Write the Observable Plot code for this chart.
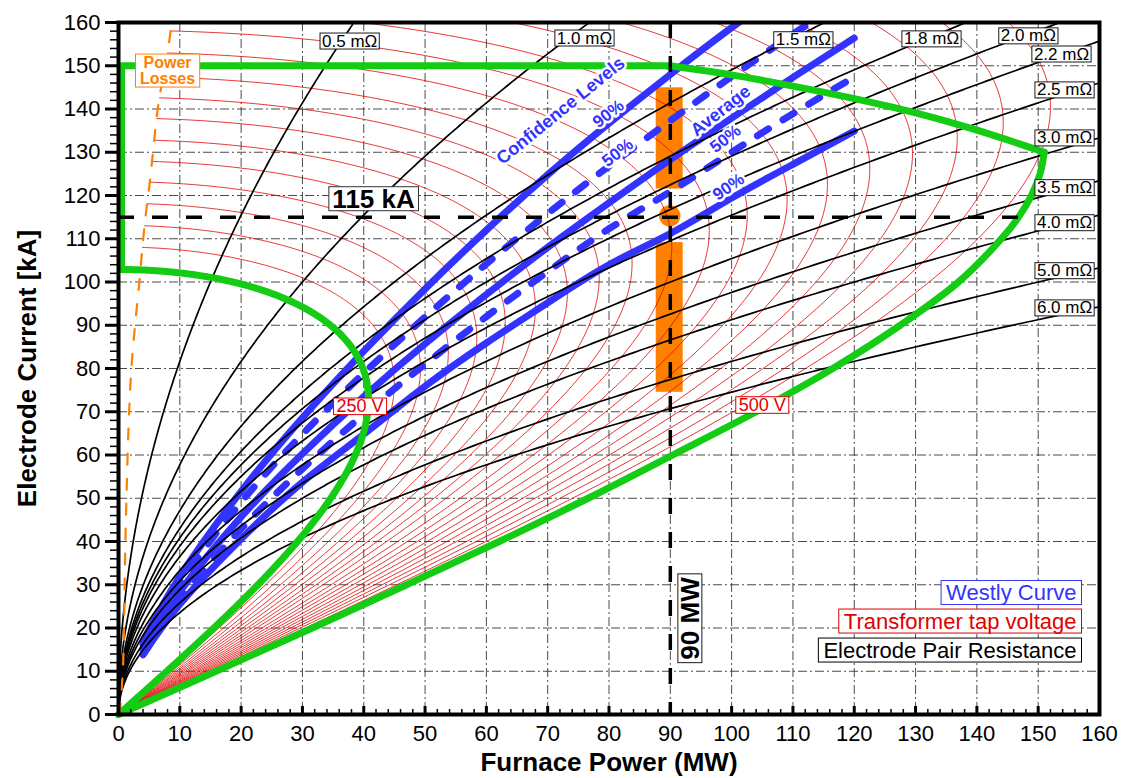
<!DOCTYPE html>
<html>
<head>
<meta charset="utf-8">
<script src="https://cdn.jsdelivr.net/npm/d3@7"></script>
<script src="https://cdn.jsdelivr.net/npm/@observablehq/plot@0.6"></script>
<style>
  html, body { margin: 0; padding: 0; background: #fff; }
  #chart svg { display: block; }
</style>
</head>
<body>
<div id="chart"></div>
<script>
// ---------------- data ----------------
const tickValues = [0, 10, 20, 30, 40, 50, 60, 70, 80, 90, 100, 110, 120, 130, 140, 150, 160];
const tickLabels = ["0","10","20","30","40","50","60","70","80","90","100","110","120","130","140","150","160"];
const gridValues = [10, 20, 30, 40, 50, 60, 70, 80, 90, 100, 110, 120, 130, 140, 150];

// Electrode pair resistance (mΩ): P[MW] = 3·I²[kA²]·R[mΩ]/1000
const resistances = [0.5, 1.0, 1.5, 1.8, 2.0, 2.2, 2.5, 3.0, 3.5, 4.0, 5.0, 6.0];
const resistanceLabels = ["0.5 mΩ","1.0 mΩ","1.5 mΩ","1.8 mΩ","2.0 mΩ","2.2 mΩ","2.5 mΩ","3.0 mΩ","3.5 mΩ","4.0 mΩ","5.0 mΩ","6.0 mΩ"];
const resistanceLabelPower = [37.7, 76.0, 111.7, 132.6, 148.4, 153.8, 154.3, 154.3, 154.3, 154.3, 154.3, 154.3];
const resistanceLabelCurrent = [155.7, 156.4, 156.0, 156.2, 156.9, 152.7, 144.4, 133.3, 121.8, 113.7, 102.6, 94.0];

// Transformer tap arcs: short-circuit current (kA) of each tap, read at the left ends
const tapShortCircuitCurrent = [102.9, 108.1, 113.1, 118.2, 123.2, 128.0, 132.9, 137.9, 142.7, 147.5,
                                153.1, 158.2, 163.2, 168.3, 173.3, 178.4, 183.4, 188.5, 193.6, 198.7];
const tapReactanceFactor = 0.0077; // MW per kA², 3·X/1000
const tapLabels = ["250 V", "500 V"];
const tapLabelPower = [39.4, 105.0];
const tapLabelCurrent = [71.2, 71.5];

// Power losses (orange dashed)
const lossCurrent = [0, 10, 20, 35, 50, 65, 75, 82, 90, 100, 108, 115, 123, 131, 139, 147, 155, 158];
const lossPower   = [0.2, 0.7, 0.9, 1.05, 1.3, 1.6, 1.9, 2.2, 2.7, 3.4, 3.9, 4.4, 5.1, 5.7, 6.3, 7.2, 8.2, 8.5];

// Westly curves
const westlyPower   = [4, 10, 20, 30, 40, 50, 60, 70, 80, 90, 100, 110, 120];
const westlyUpper90 = [16.9, 31.9, 51.6, 68.6, 84.0, 98.4, 112.0, 124.8, 136.7, 148.0, 158.8, 169.0, null];
const westlyUpper50 = [16.2, 30.4, 49.1, 64.8, 78.9, 91.9, 104.2, 115.8, 126.8, 137.3, 147.5, 157.3, null];
const westlyAverage = [15.1, 28.4, 45.7, 60.3, 73.5, 85.7, 97.1, 108.0, 118.3, 128.3, 137.9, 147.3, 156.4];
const westlyLower50 = [14.0, 26.6, 42.9, 56.8, 69.4, 81.0, 92.0, 102.4, 112.3, 120.9, 130.0, 138.9, null];
const westlyLower90 = [13.8, 25.5, 40.6, 53.7, 64.8, 75.9, 85.9, 95.2, 104.0, 111.2, 119.4, 127.2, 134.9];
const westlyUpper50End = [112.5, 159.6];
const westlyLower50End = [119.4, 146.9];

// Operating window (green)
const greenEdgePower   = [0.5, 0.5, 90];
const greenEdgeCurrent = [103.0, 150, 150];
const greenTopPower    = [90, 100, 110, 120, 130, 140, 151];
const greenTopCurrent  = [150, 147.9, 145.3, 142.4, 139.1, 135.1, 130];
const greenRightCurrent = [130, 125, 120, 115, 110, 100, 90, 80, 70, 60, 50, 40, 30, 20, 10, 0];
const greenRightPower   = [151.0, 150.3, 148.9, 146.8, 144.0, 137.0, 127.5, 116.5, 104.0, 90.4, 76.6, 62.1, 47.0, 31.6, 15.9, 0];

// Orange operating range at 90 MW
const rangePower = [87.7, 92.1];
const rangeLow  = [74.5, 109.1];
const rangeHigh = [121.5, 144.9];
const rangePointPower = 89.9, rangePointCurrent = 115.3;

// Reference lines
const referenceCurrent = [115];
const referencePower = [90];

// Annotations
const westlyNotes = ["Confidence Levels", "90%", "50%", "Average", "50%", "90%"];
const westlyNotePower = [72.1, 79.9, 81.4, 98.2, 99.0, 99.5];
const westlyNoteCurrent = [139.6, 138.9, 129.9, 139.6, 133.1, 122.0];
const westlyNoteAngle = [-39, -38, -38, -38, -38, -35];
const legendItems = ["Westly Curve", "Transformer tap voltage", "Electrode Pair Resistance"];

// ---------------- derived tables ----------------
const BLUE = "#3333ff", RED = "#e00000", GREEN = "#15cc15", ORANGE = "#ff8000";

const lossAt = d3.scaleLinear().domain(lossCurrent).range(lossPower).clamp(true);

const resistanceCurves = resistances.flatMap((R) => {
  const pts = [];
  for (let j = 0; j <= 400; ++j) {
    const I = 165 * j / 400, P = 3 * I * I * R / 1000;
    pts.push({R, I, P});
    if (P > 165) break;
  }
  return pts;
});

function tapArc(I0, k, toZero) {
  const pts = [];
  const n = 500;
  for (let j = 0; j <= n; ++j) {
    const th = (Math.PI / 2) * j / n;
    const I = I0 * Math.sin(th);
    const P = tapReactanceFactor * I0 * I0 * Math.sin(th) * Math.cos(th);
    if (!toZero && th > Math.PI / 4 && P < lossAt(I)) { pts.push({k, I, P: lossAt(I)}); break; }
    if (toZero && th > Math.PI / 4 && P < greenEdgePower[0]) { pts.push({k, I, P: greenEdgePower[0]}); break; }
    pts.push({k, I, P});
  }
  return pts;
}
const tapArcs = tapShortCircuitCurrent.flatMap((I0, k) => tapArc(I0, k, false));
const greenLeftArc = tapArc(tapShortCircuitCurrent[0], 0, true);

const westly = [];
const addWestly = (name, values, end) => {
  westlyPower.forEach((p, i) => { if (values[i] != null) westly.push({name, P: p, I: values[i]}); });
  if (end) westly.push({name, P: end[0], I: end[1]});
};
addWestly("u90", westlyUpper90);
addWestly("u50", westlyUpper50, westlyUpper50End);
addWestly("avg", westlyAverage);
addWestly("l50", westlyLower50, westlyLower50End);
addWestly("l90", westlyLower90);
const westlySolid = westly.filter(d => d.name === "u90" || d.name === "avg" || d.name === "l90");
const westlyDashed = westly.filter(d => d.name === "u50" || d.name === "l50");

const lossLine = lossCurrent.map((I, i) => ({I, P: lossPower[i]}));
const greenEdge = greenEdgePower.map((P, i) => ({P, I: greenEdgeCurrent[i]}));
const greenTop = greenTopPower.map((P, i) => ({P, I: greenTopCurrent[i]}));
const greenRight = greenRightCurrent.map((I, i) => ({I, P: greenRightPower[i]}));
const ranges = [
  {x1: rangePower[0], x2: rangePower[1], y1: rangeLow[0], y2: rangeLow[1]},
  {x1: rangePower[0], x2: rangePower[1], y1: rangeHigh[0], y2: rangeHigh[1]}
];
const resLabels = resistanceLabels.map((t, i) => ({t, P: resistanceLabelPower[i], I: resistanceLabelCurrent[i]}));
const tapLabelRows = tapLabels.map((t, i) => ({t, P: tapLabelPower[i], I: tapLabelCurrent[i]}));
const noteRows = westlyNotes.map((t, i) => ({t, P: westlyNotePower[i], I: westlyNoteCurrent[i], a: westlyNoteAngle[i]}));
const minorTicks = d3.range(0, 161, 2).filter(v => v % 10 !== 0);
const fmt = (d) => tickLabels[tickValues.indexOf(d)];

const grid = {stroke: "#2a2a2a", strokeOpacity: 0.85, strokeWidth: 1, strokeDasharray: "9,3,2,3"};
const legendText = (t, color, dy) => Plot.text([t], {frameAnchor: "bottom-right", text: (d) => d, fill: color,
  dx: -23, dy, textAnchor: "end", lineAnchor: "middle", fontSize: 22});

const chart = Plot.plot({
  width: 1122,
  height: 778,
  marginLeft: 118,
  marginRight: 23,
  marginTop: 22,
  marginBottom: 64,
  style: {fontFamily: "'Liberation Sans', Arial, sans-serif", fontSize: "22px", background: "white", color: "black"},
  x: {domain: [0, 160]},
  y: {domain: [0, 160]},
  marks: [
    Plot.gridX(gridValues, grid),
    Plot.gridY(gridValues, grid),
    Plot.rect(ranges, {x1: "x1", x2: "x2", y1: "y1", y2: "y2", fill: ORANGE}),
    Plot.dot([{P: rangePointPower, I: rangePointCurrent}], {x: "P", y: "I", r: 10.7, fill: ORANGE}),
    Plot.line(tapArcs, {x: "P", y: "I", z: "k", stroke: RED, strokeWidth: 0.8, clip: true}),
    Plot.line(westlySolid, {x: "P", y: "I", z: "name", stroke: BLUE, strokeWidth: 7, curve: "natural", clip: true}),
    Plot.line(westlyDashed, {x: "P", y: "I", z: "name", stroke: BLUE, strokeWidth: 7, strokeDasharray: "13,17", curve: "natural", clip: true}),
    Plot.line(resistanceCurves, {x: "P", y: "I", z: "R", stroke: "black", strokeWidth: 1.7, clip: true}),
    Plot.line(greenLeftArc, {x: "P", y: "I", stroke: GREEN, strokeWidth: 7, strokeLinecap: "round"}),
    Plot.line(greenEdge, {x: "P", y: "I", stroke: GREEN, strokeWidth: 7, strokeLinecap: "round"}),
    Plot.line(greenTop, {x: "P", y: "I", stroke: GREEN, strokeWidth: 7, curve: "catmull-rom", strokeLinecap: "round"}),
    Plot.line(greenRight, {x: "P", y: "I", stroke: GREEN, strokeWidth: 7, curve: "catmull-rom", strokeLinecap: "round"}),
    Plot.line(lossLine, {x: "P", y: "I", stroke: ORANGE, strokeWidth: 2.2, strokeDasharray: "11,14", curve: "catmull-rom"}),
    Plot.ruleY(referenceCurrent, {stroke: "black", strokeWidth: 3.5, strokeDasharray: "16,18"}),
    Plot.ruleX(referencePower, {stroke: "black", strokeWidth: 3.5, strokeDasharray: "16,18"}),
    Plot.frame({stroke: "black", strokeWidth: 4}),
    Plot.axisY({ticks: tickValues, tickFormat: fmt, tickSize: 13, tickPadding: 5, strokeWidth: 3, fontSize: 22, label: null}),
    Plot.axisY({ticks: minorTicks, tickFormat: () => "", tickSize: 8, strokeWidth: 1.5, label: null}),
    Plot.axisX({ticks: tickValues, tickFormat: fmt, tickSize: 0, tickPadding: 11, fontSize: 22, label: null}),
    Plot.ruleX(tickValues, {y1: 0, y2: 1.85, stroke: "black", strokeWidth: 3}),
    Plot.ruleX(minorTicks, {y1: 0, y2: 1.15, stroke: "black", strokeWidth: 1.5}),
    // annotations
    Plot.text(noteRows, {x: "P", y: "I", text: "t", rotate: "a", fill: BLUE, fontWeight: "bold",
      fontSize: (d) => d.t === "Confidence Levels" || d.t === "Average" ? 18 : 17, stroke: "white", strokeWidth: 5}),
    Plot.text(resLabels, {x: "P", y: "I", text: "t", fontSize: 17, fill: "black"}),
    Plot.text(tapLabelRows, {x: "P", y: "I", text: "t", fontSize: 18, fill: RED}),
    Plot.text(["115 kA"], {x: 41.6, y: 119.1, text: (d) => d, fontSize: 26, fontWeight: "bold", fill: "black"}),
    Plot.text(["90 MW"], {x: 93.3, y: 22.2, text: (d) => d, rotate: -90, fontSize: 26, fontWeight: "bold", fill: "black"}),
    Plot.text(["Power\nLosses"], {x: 8.0, y: 148.8, text: (d) => d, fontSize: 16, lineHeight: 1, fontWeight: "bold", fill: ORANGE}),
    legendText(legendItems[0], BLUE, -121.5),
    legendText(legendItems[1], RED, -93),
    legendText(legendItems[2], "#000", -64),
    Plot.text(["Furnace Power (MW)"], {frameAnchor: "bottom", text: (d) => d, dy: 48, lineAnchor: "middle", textAnchor: "middle", fontSize: 26, fontWeight: "bold"}),
    Plot.text(["Electrode Current [kA]"], {frameAnchor: "left", text: (d) => d, dx: -91, rotate: -90, lineAnchor: "middle", textAnchor: "middle", fontSize: 26, fontWeight: "bold"})
  ]
});

document.getElementById("chart").append(chart);

// white boxes with coloured borders behind the boxed labels
const boxStyles = new Map([
  ...resistanceLabels.map((t) => [t, {stroke: "#1a1a1a", px: 2, py: -1.5}]),
  ["115 kA", {stroke: "#333", px: 3.5, py: -3}],
  ["90 MW", {stroke: "#1a1a1a", px: 3, py: -3}],
  ["250 V", {stroke: RED, px: 3, py: -1.7}],
  ["500 V", {stroke: RED, px: 3, py: -1.7}],
  ["PowerLosses", {stroke: ORANGE, px: 4.5, py: 0}],
  ["Westly Curve", {stroke: BLUE, px: 5, py: -0.5}],
  ["Transformer tap voltage", {stroke: RED, px: 5, py: -0.5}],
  ["Electrode Pair Resistance", {stroke: "#000", px: 5, py: -0.5}]
]);
const svg = chart.tagName.toLowerCase() === "svg" ? chart : chart.querySelector("svg");
svg.querySelectorAll("text").forEach((t) => {
  const s = boxStyles.get(t.textContent);
  if (!s) return;
  const bb = t.getBBox();
  const r = document.createElementNS("http://www.w3.org/2000/svg", "rect");
  r.setAttribute("x", bb.x - s.px);
  r.setAttribute("y", bb.y - s.py);
  r.setAttribute("width", bb.width + 2 * s.px);
  r.setAttribute("height", bb.height + 2 * s.py);
  r.setAttribute("fill", "white");
  r.setAttribute("stroke", s.stroke);
  r.setAttribute("stroke-width", 1);
  const tr = t.getAttribute("transform");
  if (tr) r.setAttribute("transform", tr);
  t.parentNode.insertBefore(r, t);
});
</script>
</body>
</html>
